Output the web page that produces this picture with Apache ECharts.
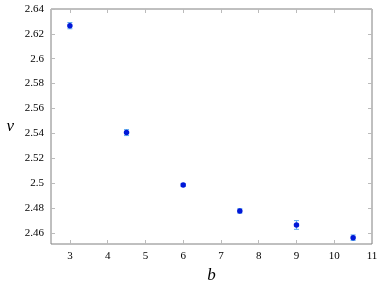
<!DOCTYPE html>
<html><head><meta charset="utf-8">
<script src="https://cdn.jsdelivr.net/npm/echarts@6/dist/echarts.min.js"></script>
<style>html,body{margin:0;padding:0;background:#fff}#c{width:383px;height:289px}</style>
</head><body><div id="c"></div>
<script>
const bValues = [3, 4.5, 6, 7.5, 9, 10.5];
const nuValues = [2.6266, 2.5406, 2.4985, 2.4776, 2.4663, 2.4561];
const nuErrors = [0.0025, 0.0024, 0.0012, 0.0018, 0.0035, 0.0022];
const xTicks = [3, 4, 5, 6, 7, 8, 9, 10, 11];
const yTicks = [2.46, 2.48, 2.5, 2.52, 2.54, 2.56, 2.58, 2.6, 2.62, 2.64];

const font = 'Liberation Serif';
const pts = bValues.map((b, i) => [b, nuValues[i]]);
const errs = bValues.map((b, i) => [b, nuValues[i], nuErrors[i]]);
const fmt = v => String(Math.round(v * 1000) / 1000);

const chart = echarts.init(document.getElementById('c'), null, {renderer: 'canvas'});
const tickStyle = {lineStyle: {color: '#bbb', width: 1}};
chart.setOption({
  animation: false,
  grid: {left: 51, right: 11, top: 9, bottom: 41, show: true, borderColor: '#808080', borderWidth: 1},
  xAxis: [{
    type: 'value', min: 2.5, max: 11,
    name: 'b', nameLocation: 'middle', nameGap: 23,
    nameTextStyle: {fontFamily: font, fontStyle: 'italic', fontSize: 17, color: '#000'},
    axisLine: {show: false}, splitLine: {show: false},
    axisTick: {show: true, inside: true, length: 4, customValues: xTicks, ...tickStyle},
    axisLabel: {customValues: xTicks, fontFamily: font, fontSize: 11, color: '#000', margin: 7, formatter: fmt}
  }, {
    type: 'value', min: 2.5, max: 11, position: 'top',
    axisLine: {show: false}, splitLine: {show: false}, axisLabel: {show: false},
    axisTick: {show: true, inside: true, length: 4, customValues: xTicks, ...tickStyle}
  }],
  yAxis: [{
    type: 'value', min: 2.451, max: 2.64,
    name: 'ν', nameLocation: 'middle', nameGap: 37, nameRotate: 0,
    nameTextStyle: {fontFamily: font, fontStyle: 'italic', fontSize: 17, color: '#000', padding: [4, 0, 0, 0]},
    axisLine: {show: false}, splitLine: {show: false},
    axisTick: {show: true, inside: true, length: 4, customValues: yTicks, ...tickStyle},
    axisLabel: {customValues: yTicks, fontFamily: font, fontSize: 11, color: '#000', margin: 7, formatter: fmt}
  }, {
    type: 'value', min: 2.451, max: 2.64, position: 'right',
    axisLine: {show: false}, splitLine: {show: false}, axisLabel: {show: false},
    axisTick: {show: true, inside: true, length: 4, customValues: yTicks, ...tickStyle}
  }],
  series: [{
    type: 'custom',
    data: errs,
    renderItem: function (params, api) {
      const x = api.value(0), y = api.value(1), e = api.value(2);
      const hi = api.coord([x, y + e]);
      const lo = api.coord([x, y - e]);
      const w = 2.5;
      const st = {stroke: '#5aa8ee', lineWidth: 1};
      return {type: 'group', children: [
        {type: 'line', shape: {x1: hi[0], y1: hi[1], x2: lo[0], y2: lo[1]}, style: st},
        {type: 'line', shape: {x1: hi[0] - w, y1: hi[1], x2: hi[0] + w, y2: hi[1]}, style: st},
        {type: 'line', shape: {x1: lo[0] - w, y1: lo[1], x2: lo[0] + w, y2: lo[1]}, style: st}
      ]};
    },
    z: 2
  }, {
    type: 'scatter',
    data: pts,
    symbol: 'circle', symbolSize: 5.5,
    itemStyle: {color: '#0018d8', opacity: 1},
    z: 3
  }]
});
</script></body></html>
